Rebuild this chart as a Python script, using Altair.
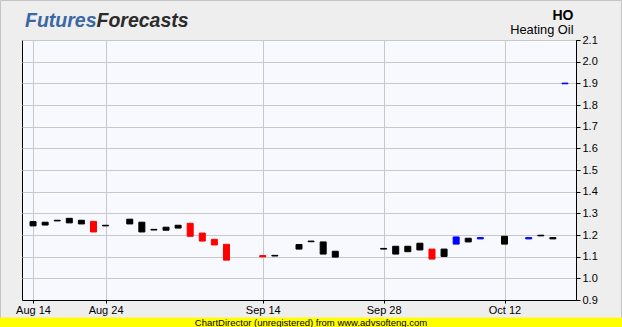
import altair as alt
import pandas as pd

# slot index (trading-day position), bar top, bar bottom, colour
slots = [0, 1, 2, 3, 4, 5, 6, 8, 9, 10, 11, 12, 13, 14, 15, 16, 19, 20,
         22, 23, 24, 25, 29, 30, 31, 32, 33, 34, 35, 36, 37, 39, 41, 42, 43, 44]
tops = [1.262, 1.259, 1.268, 1.277, 1.268, 1.263, 1.245, 1.273, 1.259, 1.226, 1.236, 1.245,
        1.254, 1.209, 1.180, 1.157, 1.105, 1.106,
        1.156, 1.172, 1.168, 1.125, 1.138, 1.148, 1.148, 1.162, 1.135, 1.135,
        1.191, 1.185, 1.188, 1.194, 1.188, 1.199, 1.188, 1.901]
bottoms = [1.242, 1.246, 1.265, 1.256, 1.251, 1.214, 1.242, 1.251, 1.214, 1.223, 1.222, 1.232,
           1.194, 1.172, 1.154, 1.084, 1.099, 1.103,
           1.135, 1.169, 1.112, 1.098, 1.135, 1.112, 1.123, 1.131, 1.089, 1.101,
           1.158, 1.168, 1.182, 1.158, 1.182, 1.196, 1.182, 1.898]
colours = ["black", "black", "black", "black", "black", "red", "black", "black", "black", "black", "black", "black",
           "red", "red", "red", "red", "red", "black",
           "black", "black", "black", "black", "black", "black", "black", "black", "red", "black",
           "blue", "black", "blue", "black", "blue", "black", "black", "blue"]

tick_slots = [0, 6, 19, 29, 39]
tick_labels = ["Aug 14", "Aug 24", "Sep 14", "Sep 28", "Oct 12"]
y_ticks = [0.9, 1.0, 1.1, 1.2, 1.3, 1.4, 1.5, 1.6, 1.7, 1.8, 1.9, 2.0, 2.1]

df = pd.DataFrame({"slot": slots, "top": tops, "bottom": bottoms, "col": colours})

label_map = "{" + ",".join(f"'{s}':'{l}'" for s, l in zip(tick_slots, tick_labels)) + "}"
label_expr = f"{label_map}[datum.value] || ''"

W, H = 554, 260
one = pd.DataFrame({"a": [0]})

colour_scale = alt.Scale(domain=["red", "black", "blue"], range=["#ff0000", "#000000", "#0000ff"])

border = alt.Chart(one).mark_rect(fill="transparent", stroke="#c4c4c4", strokeWidth=1).encode(
    x=alt.value(-21.5), x2=alt.value(599.5), y=alt.value(-39.5), y2=alt.value(287)
)

bars = alt.Chart(df).mark_bar(size=6, strokeWidth=1).encode(
    x=alt.X("slot:Q", scale=alt.Scale(domain=[-0.5, 44.5], nice=False, zero=False),
            axis=alt.Axis(values=tick_slots, labelExpr=label_expr, title=None, grid=True,
                          tickSize=3, labelFontSize=11, labelColor="#000", labelPadding=1,
                          domain=True, domainColor="#000", tickColor="#000", labelFlush=False,
                          labelFont="Liberation Sans")),
    y=alt.Y("top:Q", scale=alt.Scale(domain=[0.9, 2.1], nice=False, zero=False),
            axis=alt.Axis(orient="right", values=y_ticks, format=".1f", title=None, grid=True,
                          tickSize=4, labelFontSize=11, labelColor="#000", labelPadding=2,
                          domainColor="#000", tickColor="#000", labelFont="Liberation Sans")),
    y2="bottom:Q",
    color=alt.Color("col:N", scale=colour_scale, legend=None),
    stroke=alt.Stroke("col:N", scale=colour_scale, legend=None),
)

logo_font = "Liberation Sans"
logo1 = alt.Chart(one).mark_text(text="Futures", align="right", baseline="alphabetic", font=logo_font,
                                 fontSize=19.5, fontWeight="bold", fontStyle="italic", color="#3b67a3").encode(
    x=alt.value(74.5), y=alt.value(-13))
logo2 = alt.Chart(one).mark_text(text="Forecasts", align="left", baseline="alphabetic", font=logo_font,
                                 fontSize=19.5, fontWeight="bold", fontStyle="italic", color="#2b2b2b").encode(
    x=alt.value(74.5), y=alt.value(-13))
ho = alt.Chart(one).mark_text(text="HO", align="right", baseline="alphabetic", font="Liberation Sans",
                              fontSize=14, fontWeight="bold", color="#000").encode(
    x=alt.value(551.5), y=alt.value(-20.5))
ho_sub = alt.Chart(one).mark_text(text="Heating Oil", align="right", baseline="alphabetic",
                                  font="Liberation Sans", fontSize=12.8, color="#000").encode(
    x=alt.value(551.5), y=alt.value(-6.5))

footer = alt.Chart(one).mark_rect(fill="#ffff00").encode(
    x=alt.value(-22), x2=alt.value(600), y=alt.value(277.5), y2=alt.value(287))
footer_text = alt.Chart(one).mark_text(text="ChartDirector (unregistered) from www.advsofteng.com",
                                       align="center", baseline="alphabetic", font="Liberation Sans",
                                       fontSize=9.5, color="#000").encode(
    x=alt.value(289), y=alt.value(285.5))

chart = alt.layer(border, bars, logo1, logo2, ho, ho_sub, footer, footer_text).properties(
    width=W, height=H,
    autosize=alt.AutoSizeParams(type="none"),
    padding={"left": 22, "top": 40, "right": 46, "bottom": 27},
    background="#eeeeee",
).configure_view(fill="#f8f9ff", stroke="#000", strokeWidth=1).configure_axis(
    gridColor="#c8c8c8", gridWidth=1
)

chart.save("out.html", embed_options={"renderer": "svg", "actions": False})
